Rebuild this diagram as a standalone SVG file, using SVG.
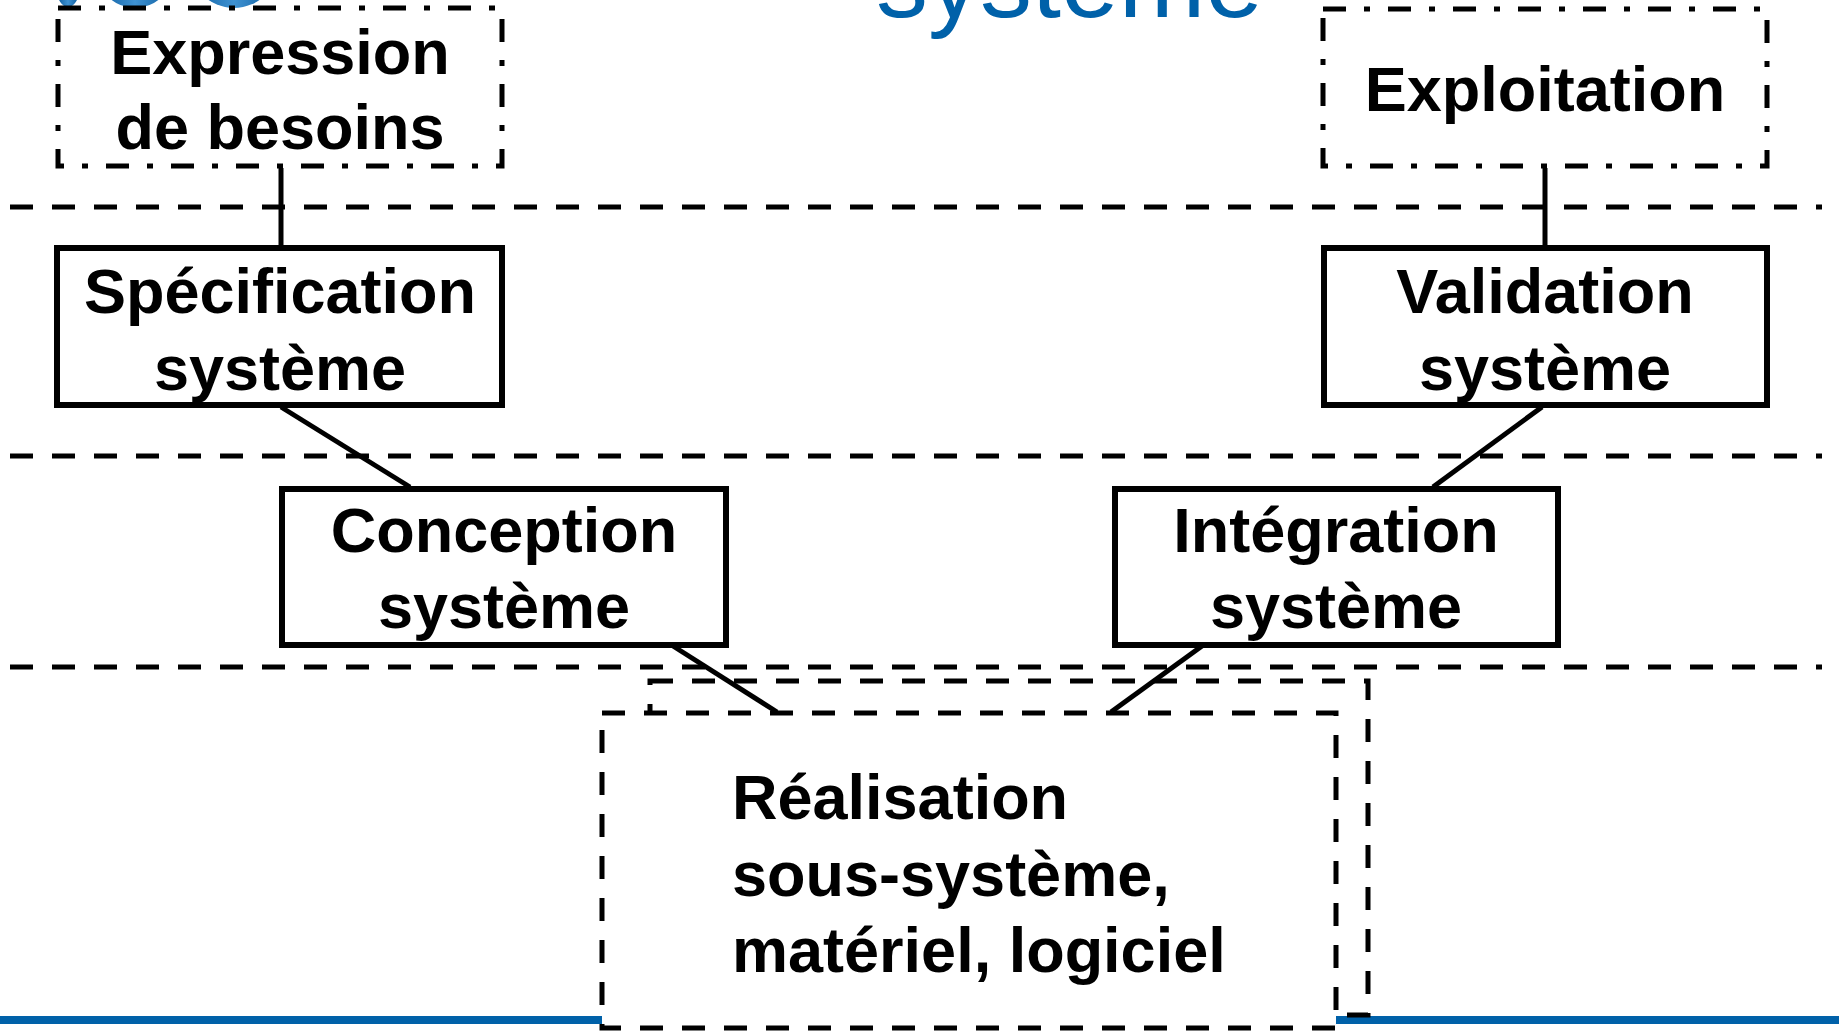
<svg xmlns="http://www.w3.org/2000/svg" width="1839" height="1032" viewBox="0 0 1839 1032">
<defs>
<linearGradient id="logo" x1="0" y1="0" x2="1" y2="0">
<stop offset="0" stop-color="#0a5a9c"/>
<stop offset="0.5" stop-color="#3f92d2"/>
<stop offset="1" stop-color="#0a5a9c"/>
</linearGradient>
<style>
.lbl{font-family:"Liberation Sans",Arial,sans-serif;font-weight:bold;font-size:63px;fill:#000;text-anchor:middle}
.lbl-l{font-family:"Liberation Sans",Arial,sans-serif;font-weight:bold;font-size:63px;fill:#000}
.box{fill:#fff;stroke:#000;stroke-width:6}
.dd{fill:#fff;stroke:#000;stroke-width:5;stroke-dasharray:23 18 6 18}
.dash{stroke:#000;stroke-width:5;stroke-dasharray:23 19;fill:none}
.conn{stroke:#000;stroke-width:5;fill:none}
</style>
</defs>
<rect width="1839" height="1032" fill="#fff"/>
<g id="logo-fragment">
<ellipse cx="68" cy="-10" rx="11" ry="17" fill="url(#logo)"/>
<ellipse cx="135" cy="-30" rx="38" ry="38" fill="url(#logo)"/>
<ellipse cx="234" cy="-40" rx="46" ry="48" fill="url(#logo)"/>
</g>
<text x="876" y="17" font-family="Liberation Sans, Arial, sans-serif" font-size="104" fill="#0061a9">système</text>
<line x1="0" y1="1020" x2="1839" y2="1020" stroke="#0061a9" stroke-width="8"/>
<g id="separators">
<line class="dash" x1="10" y1="207" x2="1822" y2="207"/>
<line class="dash" x1="10" y1="456" x2="1822" y2="456"/>
<line class="dash" x1="10" y1="667" x2="1822" y2="667"/>
</g>
<g id="connectors">
<line class="conn" x1="281" y1="168" x2="281" y2="246"/>
<line class="conn" x1="1545" y1="168" x2="1545" y2="246"/>
<line class="conn" x1="281" y1="407" x2="410" y2="487"/>
<line class="conn" x1="1542" y1="407" x2="1433" y2="487"/>
<line class="conn" x1="673" y1="646" x2="777" y2="712"/>
<line class="conn" x1="1202" y1="646" x2="1111" y2="712"/>
</g>
<g id="expression">
<rect class="dd" x="58" y="8" width="444" height="158"/>
<text class="lbl" x="280" y="74">Expression</text>
<text class="lbl" x="280" y="149">de besoins</text>
</g>
<g id="exploitation">
<rect class="dd" x="1323" y="9" width="444" height="157"/>
<text class="lbl" x="1545" y="111">Exploitation</text>
</g>
<g id="specification">
<rect class="box" x="57" y="248" width="445" height="157"/>
<text class="lbl" x="280" y="313">Spécification</text>
<text class="lbl" x="280" y="390">système</text>
</g>
<g id="validation">
<rect class="box" x="1324" y="248" width="443" height="157"/>
<text class="lbl" x="1545" y="313">Validation</text>
<text class="lbl" x="1545" y="390">système</text>
</g>
<g id="conception">
<rect class="box" x="282" y="489" width="444" height="156"/>
<text class="lbl" x="504" y="552">Conception</text>
<text class="lbl" x="504" y="628">système</text>
</g>
<g id="integration">
<rect class="box" x="1115" y="489" width="443" height="156"/>
<text class="lbl" x="1336" y="552">Intégration</text>
<text class="lbl" x="1336" y="628">système</text>
</g>
<g id="realisation">
<rect class="dash" x="650" y="681" width="718" height="334"/>
<rect class="dash" x="602" y="713" width="734" height="315" fill="#fff" style="fill:#fff"/>
<text class="lbl-l" x="732" y="819">Réalisation</text>
<text class="lbl-l" x="732" y="896">sous-système,</text>
<text class="lbl-l" x="732" y="972">matériel, logiciel</text>
</g>
</svg>
